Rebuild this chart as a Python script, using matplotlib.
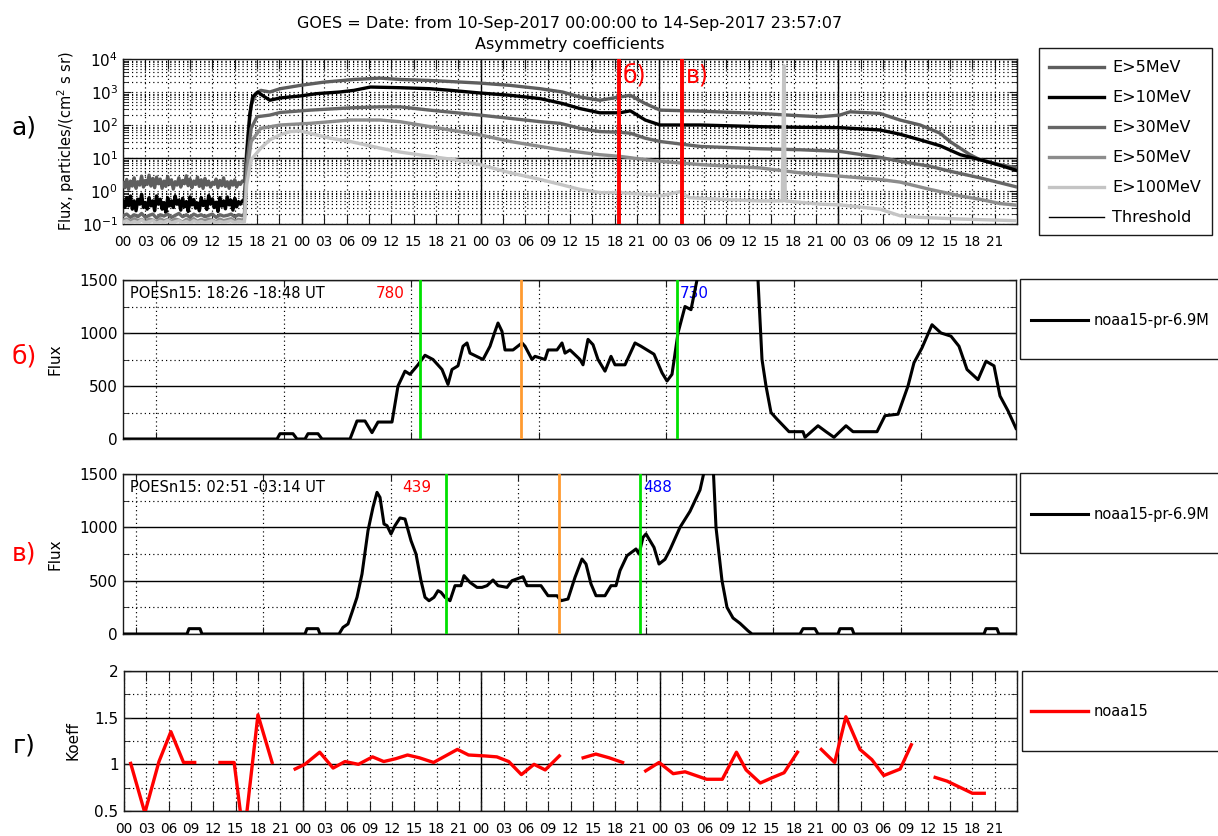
import numpy as np
import matplotlib
matplotlib.use("Agg")
import matplotlib.pyplot as plt
from matplotlib.lines import Line2D
from matplotlib.patches import Rectangle
from matplotlib.ticker import FixedLocator, NullFormatter, FuncFormatter, LogLocator
import matplotlib.transforms as mtransforms

plt.rcParams['font.family'] = ['DejaVu Sans']
plt.rcParams['mathtext.default'] = 'regular'

# ======================= DATA =======================
title_text = "GOES = Date: from 10-Sep-2017 00:00:00 to 14-Sep-2017 23:57:07\nAsymmetry coefficients"
hour_labels = ["00", "03", "06", "09", "12", "15", "18", "21"]
n_days = 5
day_boundaries = [24, 48, 72, 96]
threshold_flux = 10.0
event_hours = [66.62, 75.04]          # POES passes б) and в)
event_labels = ["б)", "в)"]

# --- panel a: GOES integral proton fluxes, log10(flux) ---
pre_hours_fine = np.arange(0, 16.25, 0.25)     # 65 samples
pre_hours = np.arange(0, 16.5, 0.5)            # 33 samples
e5_pre = [0.25, 0.10, 0.35, 0.05, 0.30, 0.15, 0.40, 0.08, 0.28, 0.18,
          0.45, 0.12, 0.32, 0.20, 0.48, 0.15, 0.38, 0.10, 0.42, 0.22,
          0.36, 0.08, 0.30, 0.14, 0.44, 0.20, 0.34, 0.06, 0.28, 0.18,
          0.40, 0.12, 0.32, 0.22, 0.46, 0.16, 0.36, 0.10, 0.30, 0.20,
          0.42, 0.14, 0.34, 0.08, 0.38, 0.18, 0.30, 0.12, 0.26, 0.20,
          0.36, 0.10, 0.32, 0.16, 0.40, 0.14, 0.28, 0.08, 0.30, 0.18,
          0.34, 0.12, 0.26, 0.20, 0.30]
e10_pre = [-0.30, -0.50, -0.20, -0.45, -0.15, -0.55, -0.30, -0.60, -0.25, -0.40,
           -0.10, -0.50, -0.35, -0.55, -0.20, -0.45, -0.30, -0.60, -0.15, -0.40,
           -0.25, -0.55, -0.35, -0.65, -0.20, -0.45, -0.30, -0.50, -0.15, -0.40,
           -0.28, -0.58, -0.22, -0.48, -0.32, -0.62, -0.18, -0.42, -0.26, -0.52,
           -0.36, -0.60, -0.20, -0.44, -0.30, -0.56, -0.14, -0.40, -0.24, -0.50,
           -0.34, -0.62, -0.20, -0.46, -0.30, -0.54, -0.18, -0.42, -0.28, -0.58,
           -0.22, -0.48, -0.32, -0.40, -0.30]
e30_pre = [-0.75, -0.70, -0.80, -0.72, -0.78, -0.68, -0.80, -0.74, -0.70, -0.82, -0.72, -0.76, -0.70, -0.80,
           -0.74, -0.68, -0.78, -0.72, -0.80, -0.70, -0.76, -0.72, -0.78, -0.74, -0.70, -0.80, -0.72, -0.76,
           -0.74, -0.70, -0.78, -0.72, -0.75]
e50_pre = [-0.88, -0.85, -0.92, -0.84, -0.90, -0.86, -0.93, -0.85, -0.88, -0.95, -0.84, -0.90, -0.86, -0.92,
           -0.85, -0.88, -0.94, -0.86, -0.90, -0.84, -0.92, -0.86, -0.90, -0.85, -0.88, -0.93, -0.85, -0.90,
           -0.87, -0.84, -0.91, -0.86, -0.88]
e100_pre = [-0.95, -0.90, -0.98, -0.92, -0.96, -0.88, -0.97, -0.93, -0.90, -0.98, -0.92, -0.95, -0.89, -0.97,
            -0.93, -0.90, -0.96, -0.92, -0.98, -0.90, -0.95, -0.92, -0.97, -0.93, -0.90, -0.96, -0.92, -0.95,
            -0.93, -0.90, -0.96, -0.92, -0.94]

e5_hours = [16.3, 16.7, 17.2, 17.8, 18.5, 19.7, 21.1, 23.8, 27.0, 31.0, 34.5, 37.2, 41.2, 47.9, 52.0, 56.0, 59.0,
            61.3, 64.0, 66.7, 68.1, 70.1, 72.1, 77.5, 85.5, 90.9, 93.6, 96.2, 97.6, 101.6, 104.3, 107.0, 109.7,
            111.0, 113.7, 115.0, 117.7, 120.0]
e5_log = [0.30, 1.50, 2.60, 2.95, 3.05, 3.00, 3.10, 3.20, 3.30, 3.38, 3.42, 3.38, 3.35, 3.27, 3.20, 3.10, 3.00,
          2.85, 2.75, 2.85, 2.90, 2.65, 2.45, 2.42, 2.35, 2.28, 2.25, 2.30, 2.40, 2.35, 2.15, 2.00, 1.75,
          1.50, 1.10, 0.95, 0.80, 0.70]

e10_hours = [16.3, 16.6, 17.0, 17.4, 18.1, 18.7, 19.7, 21.1, 23.8, 26.0, 29.1, 31.0, 33.2, 37.2, 41.2, 44.0, 47.9,
             52.0, 56.0, 59.0, 61.3, 64.0, 66.7, 68.1, 70.1, 72.1, 77.5, 85.5, 90.9, 96.2, 101.6, 104.3, 107.0,
             109.7, 112.4, 115.0, 117.7, 120.0]
e10_log = [-0.30, 1.00, 2.30, 2.85, 3.00, 2.90, 2.75, 2.82, 2.88, 2.95, 3.00, 3.05, 3.15, 3.13, 3.10, 3.05, 2.97,
           2.90, 2.80, 2.65, 2.50, 2.37, 2.37, 2.43, 2.15, 2.00, 2.00, 1.95, 1.93, 1.92, 1.85, 1.72, 1.55,
           1.37, 1.10, 0.95, 0.78, 0.62]

e30_hours = [16.3, 16.6, 17.2, 18.0, 19.7, 21.1, 25.1, 30.5, 34.5, 37.2, 41.2, 47.9, 52.0, 56.0, 58.7, 61.3, 64.0,
             66.7, 68.1, 70.1, 72.1, 77.5, 85.5, 90.9, 96.2, 101.6, 104.3, 108.3, 111.0, 115.0, 117.7, 120.0]
e30_log = [-0.70, 0.80, 1.90, 2.25, 2.30, 2.38, 2.45, 2.52, 2.55, 2.55, 2.45, 2.30, 2.20, 2.10, 2.05, 1.90, 1.80,
           1.78, 1.75, 1.60, 1.50, 1.35, 1.28, 1.25, 1.20, 1.02, 0.90, 0.75, 0.60, 0.40, 0.25, 0.12]

e50_hours = [16.3, 16.6, 17.2, 18.5, 21.1, 25.1, 30.5, 34.5, 37.2, 41.2, 47.9, 52.0, 56.0, 58.7, 64.0, 66.7, 70.1,
             72.1, 77.5, 85.5, 90.9, 96.2, 101.6, 104.3, 108.3, 112.4, 115.0, 117.7, 120.0]
e50_log = [-0.85, 0.50, 1.50, 1.90, 2.00, 2.05, 2.15, 2.15, 2.10, 1.95, 1.70, 1.50, 1.35, 1.25, 1.10, 1.05, 0.95,
           0.90, 0.80, 0.70, 0.55, 0.45, 0.35, 0.27, 0.05, -0.15, -0.25, -0.38, -0.43]

e100_hours = [16.3, 16.6, 17.2, 18.5, 19.7, 21.1, 22.4, 23.8, 25.1, 27.8, 30.5, 34.5, 37.2, 41.2, 44.5, 47.9, 52.0,
              56.0, 58.7, 61.3, 64.0, 66.7, 70.1, 72.1, 74.8, 76.0, 80.0, 85.5, 88.5, 88.7, 88.9, 93.6, 96.2,
              101.6, 104.3, 107.0, 112.4, 120.0]
e100_log = [-0.94, 0.20, 0.95, 1.30, 1.55, 1.70, 1.80, 1.82, 1.75, 1.60, 1.50, 1.30, 1.18, 1.05, 0.95, 0.80, 0.55,
            0.35, 0.20, 0.05, -0.05, -0.05, -0.10, -0.15, -0.02, -0.20, -0.25, -0.30, -0.30, 3.80, -0.30, -0.40,
            -0.42, -0.55, -0.75, -0.80, -0.85, -0.90]

series_names = ["E>5MeV", "E>10MeV", "E>30MeV", "E>50MeV", "E>100MeV"]

# --- panels б and в: POES noaa15 proton flux along the pass (sample index) ---
b_pass = "POESn15: 18:26 -18:48 UT"
b_sample = [0, 154, 157, 170, 174, 182, 185, 195, 199, 227, 234, 242, 249, 255, 269, 275, 282, 287, 295, 302,
            310, 319, 325, 329, 335, 340, 344, 347, 360, 367, 372, 375, 379, 382, 390, 399, 402, 409, 412, 422,
            425, 434, 439, 442, 447, 457, 460, 465, 470, 475, 482, 488, 492, 502, 512, 518, 531, 539, 544, 549,
            555, 562, 568, 574, 580, 628, 635, 639, 643, 648, 654, 666, 680, 682, 695, 703, 711, 723, 730, 754,
            762, 775, 785, 791, 799, 809, 818, 828, 836, 844, 855, 863, 871, 877, 885, 893]
b_flux = [0, 0, 50, 50, 0, 0, 50, 50, 0, 0, 170, 170, 60, 160, 160, 500, 640, 610, 700, 790,
          750, 656, 515, 656, 690, 875, 906, 810, 750, 875, 1015, 1094, 1015, 840, 840, 906, 875, 750, 780, 750,
          840, 840, 906, 810, 840, 750, 700, 940, 890, 750, 640, 780, 700, 700, 906, 875, 800, 625, 547, 610,
          1000, 1250, 1220, 1500, 2200, 2200, 1500, 750, 500, 250, 187, 69, 69, 16, 125, 69, 16, 125, 69, 69,
          220, 234, 500, 720, 860, 1078, 1000, 970, 875, 656, 560, 734, 690, 406, 266, 100]
b_green = [297, 554]
b_orange = [398]
b_values = ["780", "730"]

v_pass = "POESn15: 02:51 -03:14 UT"
v_sample = [0, 64, 66, 77, 79, 182, 184, 195, 197, 216, 220, 225, 229, 234, 239, 245, 250, 254, 257, 261,
            264, 268, 272, 277, 282, 288, 293, 298, 302, 306, 311, 315, 318, 322, 327, 332, 338, 341, 347, 354,
            359, 364, 370, 375, 384, 389, 400, 404, 418, 425, 434, 438, 445, 452, 459, 463, 468, 473, 482, 488,
            493, 497, 504, 513, 516, 520, 523, 531, 536, 542, 547, 557, 567, 577, 583, 586, 590, 593, 599, 604,
            610, 617, 625, 629, 677, 680, 692, 695, 715, 717, 729, 731, 861, 863, 874, 876, 893]
v_flux = [0, 0, 50, 50, 0, 0, 50, 50, 0, 0, 62, 94, 203, 344, 562, 969, 1188, 1328, 1281, 1031,
          1016, 938, 1016, 1088, 1078, 875, 750, 500, 344, 312, 344, 406, 391, 344, 312, 453, 453, 547, 484, 437,
          437, 453, 506, 453, 437, 500, 537, 453, 453, 359, 359, 312, 328, 531, 703, 656, 469, 359, 359, 453,
          453, 594, 734, 797, 750, 906, 938, 812, 656, 700, 790, 1000, 1150, 1350, 1600, 2000, 1600, 1000, 500, 250,
          150, 100, 30, 0, 0, 50, 50, 0, 0, 50, 50, 0, 0, 50, 50, 0, 0]
v_green = [323, 517]
v_orange = [436]
v_values = ["439", "488"]

pass_label = "noaa15-pr-6.9M"

# --- panel г: asymmetry coefficient (NaN = gap) ---
nan = np.nan
g_hours = [0.9, 2.8, 4.7, 6.3, 8.0, 9.5, nan,
           12.9, 14.8, 16.1, 18.0, 19.9, nan,
           23.0, 24.3, 26.3, 28.1, 29.7, 31.5, 33.4, 34.9, 36.5, 38.1, 39.7, 41.6, 43.2, 44.8, 46.3, 48.5, 50.1,
           51.7, 53.4, 55.1, 56.6, 58.5, nan,
           61.7, 63.4, 65.2, 67.0, nan,
           70.1, 71.9, 73.8, 75.4, 78.3, 80.4, 82.3, 83.6, 85.5, 87.2, 88.7, 90.5, nan,
           93.7, 95.5, 97.0, 98.9, 100.5, 102.1, 104.3, 105.8, nan,
           109.0, 110.6, 114.0, 115.6]
g_koeff = [1.01, 0.48, 1.03, 1.35, 1.02, 1.02, nan,
           1.02, 1.02, 0.20, 1.53, 1.02, nan,
           0.95, 1.00, 1.13, 0.96, 1.03, 1.00, 1.08, 1.03, 1.06, 1.10, 1.07, 1.02, 1.09, 1.16, 1.10, 1.09, 1.08,
           1.03, 0.89, 1.00, 0.94, 1.09, nan,
           1.07, 1.11, 1.07, 1.02, nan,
           0.93, 1.02, 0.90, 0.92, 0.84, 0.84, 1.13, 0.94, 0.80, 0.86, 0.91, 1.13, nan,
           1.16, 1.02, 1.51, 1.16, 1.05, 0.88, 0.95, 1.21, nan,
           0.86, 0.82, 0.69, 0.69]
g_label = "noaa15"

# ======================= STYLE / LAYOUT =======================
W, H = 1218, 836
fig = plt.figure(figsize=(W / 100, H / 100), dpi=100)
DOT = (0, (1, 2.6))
EDGE = '#1a1a1a'

series_style = {
    "E>5MeV": dict(color='#5e5e5e', lw=2.4),
    "E>10MeV": dict(color='#000000', lw=2.4),
    "E>30MeV": dict(color='#666666', lw=2.4),
    "E>50MeV": dict(color='#8c8c8c', lw=2.4),
    "E>100MeV": dict(color='#c4c4c4', lw=2.4),
}


def ax_px(l, t, r, b):
    return fig.add_axes([l / W, 1 - b / H, (r - l) / W, (b - t) / H])


def base_style(ax):
    for s in ax.spines.values():
        s.set_linewidth(1.0)
        s.set_color(EDGE)
    ax.tick_params(which='both', direction='in', top=True, right=True, color=EDGE, labelsize=11)


def time_axis(ax):
    ax.set_xlim(0, 24 * n_days)
    xt = np.arange(0, 24 * n_days + 1, 3)
    ax.xaxis.set_major_locator(FixedLocator(xt))
    labs = [hour_labels[i % len(hour_labels)] for i in range(len(xt) - 1)] + [""]
    ax.set_xticklabels(labs)
    ax.tick_params(axis='x', which='major', length=7, labelsize=9.8, pad=8)
    ax.grid(True, which='major', axis='x', ls=DOT, color='k', lw=0.85)
    for d in day_boundaries:
        ax.axvline(d, color='k', lw=1.0, zorder=1.5)


def fig_legend(box, entries, line_x, text_x, rows_y, fontsize=11.5):
    l, t, r, b = box
    fig.add_artist(Rectangle((l / W, 1 - b / H), (r - l) / W, (b - t) / H, transform=fig.transFigure,
                             fill=False, ec=EDGE, lw=1.0))
    for (label, color, lw), y in zip(entries, rows_y):
        fig.add_artist(Line2D([line_x[0] / W, line_x[1] / W], [1 - y / H] * 2, transform=fig.transFigure,
                              color=color, lw=lw))
        fig.text(text_x / W, 1 - y / H, label, fontsize=fontsize, va='center', ha='left')


# ----------------- panel a -----------------
axa = ax_px(123, 59, 1017, 224)
base_style(axa)
pre = {"E>5MeV": (pre_hours_fine, e5_pre), "E>10MeV": (pre_hours_fine, e10_pre),
       "E>30MeV": (pre_hours, e30_pre), "E>50MeV": (pre_hours, e50_pre), "E>100MeV": (pre_hours, e100_pre)}
post = {"E>5MeV": (e5_hours, e5_log), "E>10MeV": (e10_hours, e10_log), "E>30MeV": (e30_hours, e30_log),
        "E>50MeV": (e50_hours, e50_log), "E>100MeV": (e100_hours, e100_log)}
for name in series_names:
    h = np.concatenate([pre[name][0], post[name][0]])
    v = np.concatenate([pre[name][1], post[name][1]])
    axa.plot(h, 10 ** v, zorder=3, **series_style[name])
axa.axhline(threshold_flux, color='k', lw=1.0, zorder=2)
axa.set_yscale('log')
axa.set_ylim(1e-1, 1e4)
time_axis(axa)
axa.yaxis.set_major_locator(LogLocator(base=10, numticks=10))
axa.yaxis.set_minor_locator(LogLocator(base=10, subs=np.arange(2, 10), numticks=20))
axa.yaxis.set_minor_formatter(NullFormatter())
axa.tick_params(axis='y', which='major', length=6)
axa.tick_params(axis='y', which='minor', length=3.5)
axa.grid(True, which='both', axis='y', ls=DOT, color='k', lw=0.85)
for t, lab in zip(event_hours, event_labels):
    axa.axvline(t, color='#ff0000', lw=2.8, zorder=4)
    axa.text(t + 0.5, 0.9, lab, color='#ff0000', fontsize=17,
             transform=mtransforms.blended_transform_factory(axa.transData, axa.transAxes),
             ha='left', va='center', zorder=5)
axa.set_title(title_text, fontsize=11.5, linespacing=1.55, pad=7)
axa.set_ylabel("Flux, particles/(cm$^2$ s sr)", fontsize=10.5, va='center')
axa.yaxis.set_label_coords((66 - 123) / 894, 0.5)

fig_legend((1039, 48, 1212, 235),
           [(n, series_style[n]['color'], 2.4) for n in series_names] + [("Threshold", 'k', 1.0)],
           (1049, 1104), 1112, [67, 97, 127, 157, 187, 217])


# ----------------- panels б and в -----------------
def pass_panel(top, bottom, xs, ys, greens, oranges, values, pass_text, tick0, legend_y):
    ax = ax_px(123, top, 1016, bottom)
    base_style(ax)
    ax.plot(xs, ys, color='k', lw=2.2, zorder=3)
    ax.set_xlim(0, 893)
    ax.set_ylim(0, 1500)
    ax.xaxis.set_major_locator(FixedLocator(np.arange(tick0, 893, 127.5)))
    ax.xaxis.set_major_formatter(NullFormatter())
    ax.yaxis.set_major_locator(FixedLocator([0, 500, 1000, 1500]))
    ax.yaxis.set_minor_locator(FixedLocator([250, 750, 1250]))
    ax.tick_params(axis='both', which='major', length=5, pad=4)
    ax.tick_params(axis='y', which='minor', length=4)
    ax.grid(True, which='major', axis='x', ls=DOT, color='k', lw=0.85)
    ax.grid(True, which='major', axis='y', ls='-', color='k', lw=1.0)
    ax.grid(True, which='minor', axis='y', ls=DOT, color='k', lw=0.85)
    for g in greens:
        ax.axvline(g, color='#00e000', lw=2.0, zorder=4)
    for o in oranges:
        ax.axvline(o, color='#ff9a30', lw=2.0, zorder=4)
    ax.text(0.008, 0.915, pass_text, transform=ax.transAxes, fontsize=10.5, ha='left', va='center')
    ty = mtransforms.blended_transform_factory(ax.transData, ax.transAxes)
    ax.text(greens[0] - 15, 0.915, values[0], transform=ty, color='#ff0000', fontsize=11, ha='right', va='center')
    ax.text(greens[1] + 3, 0.915, values[1], transform=ty, color='#0000ff', fontsize=11, ha='left', va='center',
            zorder=2)
    ax.set_ylabel("Flux", fontsize=11, va='center')
    ax.yaxis.set_label_coords((55 - 123) / 893, 0.5)
    fig_legend((1020, top - 1, 1260, top + 79), [(pass_label, 'k', 2.2)], (1031, 1088), 1094,
               [legend_y], fontsize=10.5)
    return ax


axb = pass_panel(280, 439, b_sample, b_flux, b_green, b_orange, b_values, b_pass, 33, 320)
axv = pass_panel(474, 634, v_sample, v_flux, v_green, v_orange, v_values, v_pass, 12.7, 514)

# ----------------- panel г -----------------
axg = ax_px(124, 671, 1017, 811)
base_style(axg)
axg.plot(g_hours, g_koeff, color='#ff0000', lw=2.4, zorder=3)
axg.set_ylim(0.5, 2)
time_axis(axg)
axg.yaxis.set_major_locator(FixedLocator([0.5, 1.0, 1.5, 2.0]))
axg.yaxis.set_minor_locator(FixedLocator([0.75, 1.25, 1.75]))
axg.yaxis.set_major_formatter(FuncFormatter(lambda v, p: "%g" % v))
axg.tick_params(axis='y', which='major', length=5, pad=4)
axg.tick_params(axis='y', which='minor', length=4)
axg.grid(True, which='major', axis='y', ls='-', color='k', lw=1.0)
axg.grid(True, which='minor', axis='y', ls=DOT, color='k', lw=0.85)
axg.set_ylabel("Koeff", fontsize=11, va='center')
axg.yaxis.set_label_coords((73 - 124) / 893, 0.5)
fig_legend((1022, 671, 1260, 751), [(g_label, '#ff0000', 2.4)], (1031, 1088), 1094, [711], fontsize=10.5)

# ----------------- panel letters -----------------
for lab, y, col in [("а)", 128, 'k'), ("б)", 357, '#ff0000'), ("в)", 553, '#ff0000'), ("г)", 745, 'k')]:
    fig.text(24 / W, 1 - y / H, lab, fontsize=18, color=col, ha='center', va='center')

fig.savefig("out.png", dpi=100)
